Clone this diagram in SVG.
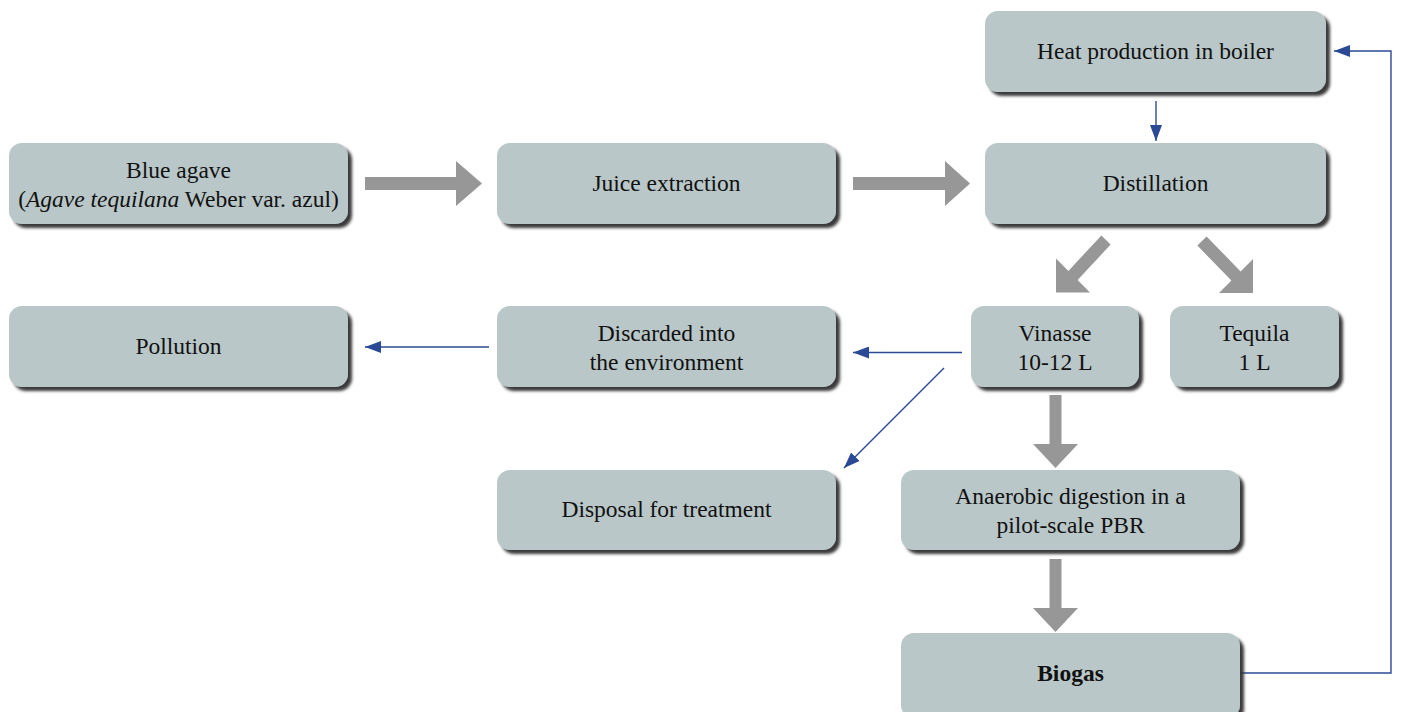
<svg xmlns="http://www.w3.org/2000/svg" width="1401" height="712" viewBox="0 0 1401 712">
<style>
.box{fill:#b9c7c8;filter:url(#sh)}
.t{font-family:'Liberation Serif','Times New Roman',serif;font-size:23.5px;fill:#111;text-anchor:middle}
.g{fill:#979797}
.b{fill:none;stroke:#2b4a96;stroke-width:1.4;marker-end:url(#ah)}
</style>
<defs>
<filter id="sh" x="-10%" y="-20%" width="130%" height="150%">
<feDropShadow dx="4" dy="4" stdDeviation="1.6" flood-color="#2e2e2e" flood-opacity="0.95"/>
</filter>
<marker id="ah" markerUnits="userSpaceOnUse" markerWidth="16" markerHeight="12" refX="16" refY="6" orient="auto">
<path d="M0,0 L16,6 L0,12 z" fill="#2b4a96"/>
</marker>
</defs>
<g id="connectors">
<polygon class="g" points="365,177 456,177 456,161 482,183.5 456,206 456,190 365,190"/>
<polygon class="g" points="853,177 945,177 945,161 970,183.5 945,206 945,190 853,190"/>
<polygon class="g" points="1101.4,235.4 1068.4,270.9 1056,258.5 1056,292.5 1090,292.5 1077.6,280.1 1110.6,244.6"/>
<polygon class="g" points="1197.4,245.6 1206.6,236.4 1240.6,271.4 1253,259 1253,293 1219,293 1231.4,280.6"/>
<polygon class="g" points="1049.5,395 1061.5,395 1061.5,444 1078,444 1055.5,468 1033,444 1049.5,444"/>
<polygon class="g" points="1049.5,559 1061.5,559 1061.5,608 1078,608 1055.5,632 1033,608 1049.5,608"/>
<path class="b" d="M1156,101 L1156,141"/>
<path class="b" d="M1241,673 L1391,673 L1391,51 L1334,51"/>
<path class="b" d="M962,352.5 L853,352.5"/>
<path class="b" d="M489,347 L365,347"/>
<path class="b" d="M944,368 L844,468"/>
</g>
<g id="heat"><rect class="box" x="985" y="11" width="341" height="81" rx="13"/><text class="t" x="1155.5" y="59">Heat production in boiler</text></g>
<g id="agave"><rect class="box" x="9" y="143" width="339" height="81" rx="13"/><text class="t" x="178.5" y="177.5">Blue agave</text><text class="t" x="178.5" y="207">(<tspan font-style="italic">Agave tequilana</tspan> Weber var. azul)</text></g>
<g id="juice"><rect class="box" x="497" y="143" width="339" height="81" rx="13"/><text class="t" x="666.5" y="191">Juice extraction</text></g>
<g id="distillation"><rect class="box" x="985" y="143" width="341" height="81" rx="13"/><text class="t" x="1155.5" y="191">Distillation</text></g>
<g id="pollution"><rect class="box" x="9" y="306" width="339" height="81" rx="13"/><text class="t" x="178.5" y="354">Pollution</text></g>
<g id="discarded"><rect class="box" x="497" y="306" width="339" height="81" rx="13"/><text class="t" x="666.5" y="340.5">Discarded into</text><text class="t" x="666.5" y="370">the environment</text></g>
<g id="vinasse"><rect class="box" x="971" y="306" width="168" height="81" rx="13"/><text class="t" x="1055" y="340.5">Vinasse</text><text class="t" x="1055" y="370">10-12 L</text></g>
<g id="tequila"><rect class="box" x="1170" y="306" width="169" height="81" rx="13"/><text class="t" x="1254.5" y="340.5">Tequila</text><text class="t" x="1254.5" y="370">1 L</text></g>
<g id="disposal"><rect class="box" x="497" y="470" width="339" height="80" rx="13"/><text class="t" x="666.5" y="517">Disposal for treatment</text></g>
<g id="anaerobic"><rect class="box" x="901" y="470" width="339" height="80" rx="13"/><text class="t" x="1070.5" y="504">Anaerobic digestion in a</text><text class="t" x="1070.5" y="533">pilot-scale PBR</text></g>
<g id="biogas"><rect class="box" x="901" y="633" width="339" height="85" rx="13"/><text class="t" x="1070.5" y="681" font-weight="bold">Biogas</text></g>
</svg>
